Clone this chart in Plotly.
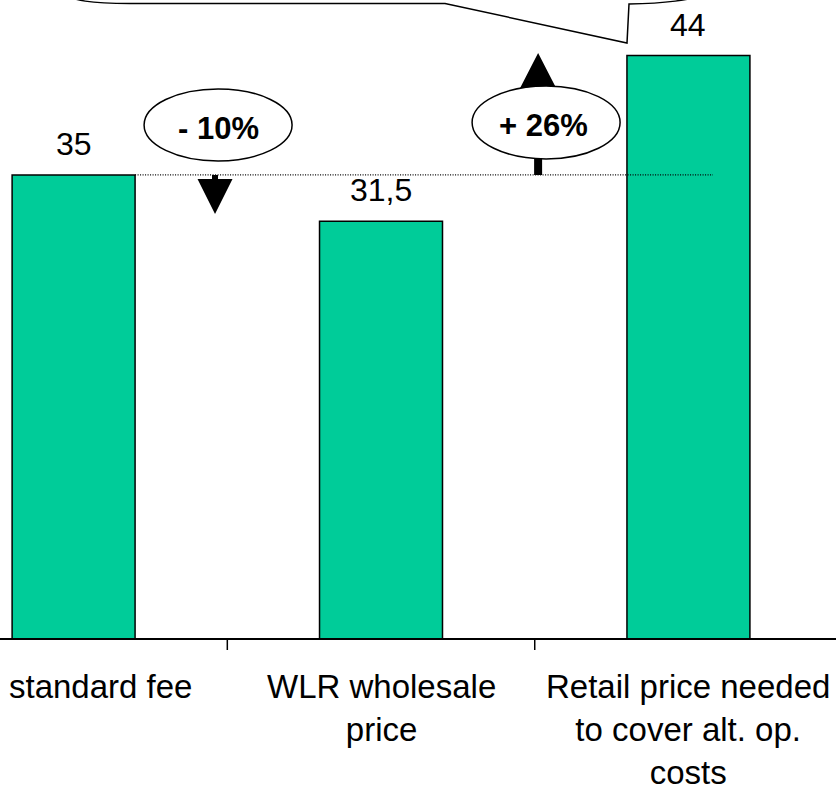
import plotly.graph_objects as go

# Price comparison: standard fee vs WLR wholesale vs retail price needed
categories = ["standard fee", "WLR wholesale<br>price", "Retail price needed<br>to cover alt. op.<br>costs"]
prices = [35, 31.5, 44]
price_labels = ["35", "31,5", "44"]
change_labels = ["- 10%", "+ 26%"]

W, H = 836, 789
BAR_GREEN = "#00CC99"
FONT = "Arial, Liberation Sans, sans-serif"

x_range = [-0.2394, 2.480]
y_range = [-11.31, 48.19]

fig = go.Figure()
fig.add_trace(go.Bar(
    x=list(range(len(prices))),
    y=prices,
    width=0.4,
    marker=dict(color=BAR_GREEN, line=dict(color="black", width=1.5)),
    hoverinfo="skip",
))

ref = prices[0]
shapes = []

# baseline of the category axis and the two tick marks between categories
shapes.append(dict(type="line", xref="paper", yref="y", x0=0, x1=1, y0=0, y1=0,
                   line=dict(color="black", width=2), layer="above"))
for tx in [0.5, 1.5]:
    shapes.append(dict(type="line", xref="x", yref="y", ysizemode="pixel", yanchor=0,
                       x0=tx, x1=tx, y0=0, y1=-11,
                       line=dict(color="black", width=1.5), layer="above"))

# dotted reference line at the standard fee level
shapes.append(dict(type="line", xref="x", yref="y", x0=0.2, x1=2.08, y0=ref, y1=ref,
                   line=dict(color="black", width=1.2, dash="1px,1.5px"), layer="above"))

# down arrow (-10%) and up arrow (+26%)
shapes.append(dict(type="path", xref="x", yref="y", xsizemode="pixel", ysizemode="pixel",
                   xanchor=0.46, yanchor=ref,
                   path="M -3,0 L 3,0 L 3,-4 L 17.5,-4 L 0,-39 L -17.5,-4 L -3,-4 Z",
                   fillcolor="black", line=dict(color="black", width=0), layer="above"))
shapes.append(dict(type="path", xref="x", yref="y", xsizemode="pixel", ysizemode="pixel",
                   xanchor=1.511, yanchor=ref,
                   path="M -4,0 L 4,0 L 4,87 L 18,87 L 0,122 L -18,87 L -4,87 Z",
                   fillcolor="black", line=dict(color="black", width=0), layer="above"))

# ellipses holding the percentage changes
shapes.append(dict(type="circle", xref="x", yref="y", xsizemode="pixel", ysizemode="pixel",
                   xanchor=0.47, yanchor=ref, x0=-74, x1=74, y0=14, y1=86,
                   fillcolor="white", line=dict(color="black", width=1.5), layer="above"))
shapes.append(dict(type="circle", xref="x", yref="y", xsizemode="pixel", ysizemode="pixel",
                   xanchor=1.537, yanchor=ref, x0=-74, x1=74, y0=16, y1=89,
                   fillcolor="white", line=dict(color="black", width=1.5), layer="above"))

# speech-bubble callout along the top edge, pointing at the last bar
shapes.append(dict(type="path", xref="paper", yref="paper", xsizemode="pixel", ysizemode="pixel",
                   xanchor=0, yanchor=1,
                   path=("M 60,8 C 72,-1 92,-3.5 130,-3.5 L 445,-3.5 L 627,-43 L 629,-4 "
                         "C 660,-3.5 690,-1.5 722,10"),
                   line=dict(color="black", width=1.5), layer="above"))

annotations = []
for i, (v, lbl) in enumerate(zip(prices, price_labels)):
    annotations.append(dict(x=i, y=v, xref="x", yref="y", text=lbl, showarrow=False,
                            yanchor="bottom", yshift=11,
                            font=dict(family=FONT, size=32, color="black")))

for i, cat in enumerate(categories):
    annotations.append(dict(x=i, y=0, xref="x", yref="y", text=cat, showarrow=False,
                            yanchor="top", yshift=-28, borderpad=0,
                            xshift=27 if i == 0 else 0,
                            font=dict(family=FONT, size=33, color="black")))

for (cx, dy), lbl in zip([(0.47, 46), (1.527, 49.5)], change_labels):
    annotations.append(dict(x=cx, y=ref, xref="x", yref="y", text="<b>" + lbl + "</b>",
                            showarrow=False, yanchor="middle", yshift=dy,
                            font=dict(family=FONT, size=31, color="black")))

fig.update_layout(
    width=W, height=H,
    margin=dict(l=0, r=0, t=0, b=0),
    paper_bgcolor="white", plot_bgcolor="white",
    showlegend=False,
    xaxis=dict(visible=False, range=x_range),
    yaxis=dict(visible=False, range=y_range),
    shapes=shapes,
    annotations=annotations,
)

fig.write_html("out.html")
